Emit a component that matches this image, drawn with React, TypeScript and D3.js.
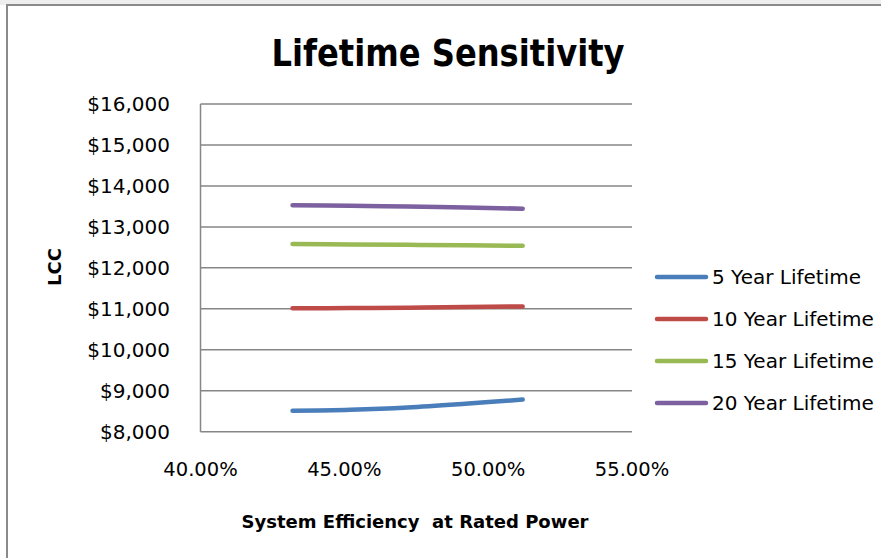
import React from "react";
import * as d3 from "d3";

const efficiency = [0.432, 0.452, 0.472, 0.492, 0.512];
const seriesNames = ["5 Year Lifetime", "10 Year Lifetime", "15 Year Lifetime", "20 Year Lifetime"];
const fiveYear = [8513, 8537, 8591, 8681, 8785];
const tenYear = [11015, 11018, 11028, 11042, 11058];
const fifteenYear = [12580, 12572, 12562, 12550, 12540];
const twentyYear = [13530, 13515, 13498, 13472, 13445];
const seriesColors = ["#4a7ebb", "#be4b48", "#98b954", "#7d60a0"];
const yTicks = [8000, 9000, 10000, 11000, 12000, 13000, 14000, 15000, 16000];
const xTicks = [0.4, 0.45, 0.5, 0.55];

const W = 881;
const H = 558;
const font = "'DejaVu Sans', sans-serif";

export default function App() {
  const x = d3.scaleLinear().domain([0.4, 0.55]).range([200.5, 632]);
  const y = d3.scaleLinear().domain([8000, 16000]).range([431.7, 104]);
  const allSeries = [fiveYear, tenYear, fifteenYear, twentyYear];
  const line = d3
    .line<[number, number]>()
    .x((d) => x(d[0]))
    .y((d) => y(d[1]))
    .curve(d3.curveCatmullRom.alpha(0.5));
  const dollar = d3.format("$,.0f");
  const pct = d3.format(".2%");

  return (
    <svg
      width={W}
      height={H}
      style={{ position: "absolute", left: 0, top: 0 }}
    >
      <rect x={0} y={0} width={W} height={H} fill="#ffffff" />
      <rect x={0} y={0} width={W} height={5} fill="#eeeeee" />
      <line x1={6} y1={5} x2={W} y2={5} stroke="#8a8a8a" strokeWidth={2} />
      <line x1={7} y1={5} x2={7} y2={H} stroke="#8a8a8a" strokeWidth={2} />

      <text
        x={448}
        y={66}
        textAnchor="middle"
        fontFamily={font}
        fontWeight="bold"
        fontSize={38}
        textLength={353}
        lengthAdjust="spacingAndGlyphs"
        fill="#000"
      >
        Lifetime Sensitivity
      </text>

      {yTicks.map((t) => (
        <g key={t}>
          <line
            x1={x(0.4)}
            x2={x(0.55)}
            y1={y(t)}
            y2={y(t)}
            stroke="#868686"
            strokeWidth={1.5}
          />
          <text
            x={170}
            y={y(t)}
            dy="0.35em"
            textAnchor="end"
            fontFamily={font}
            fontSize={20}
            fill="#000"
          >
            {dollar(t)}
          </text>
        </g>
      ))}
      <line x1={x(0.4)} x2={x(0.4)} y1={y(16000)} y2={y(8000)} stroke="#868686" strokeWidth={1.5} />

      {xTicks.map((t) => (
        <text
          key={t}
          x={x(t)}
          y={469}
          dy="0.35em"
          textAnchor="middle"
          fontFamily={font}
          fontSize={19.5}
          fill="#000"
        >
          {pct(t)}
        </text>
      ))}

      <text
        x={0}
        y={0}
        transform={`translate(61,267) rotate(-90)`}
        textAnchor="middle"
        fontFamily={font}
        fontWeight="bold"
        fontSize={18}
        fill="#000"
      >
        LCC
      </text>

      <text
        x={415}
        y={522}
        dy="0.35em"
        textAnchor="middle"
        fontFamily={font}
        fontWeight="bold"
        fontSize={18}
        textLength={347}
        lengthAdjust="spacingAndGlyphs"
        fill="#000"
        style={{ whiteSpace: "pre" }}
      >
        System Efficiency  at Rated Power
      </text>

      {allSeries.map((vals, i) => (
        <path
          key={seriesNames[i]}
          d={line(efficiency.map((e, j) => [e, vals[j]] as [number, number])) || ""}
          fill="none"
          stroke={seriesColors[i]}
          strokeWidth={4.5}
          strokeLinecap="round"
        />
      ))}

      {seriesNames.map((name, i) => {
        const ly = 277 + i * 42;
        return (
          <g key={name}>
            <line x1={657} x2={706} y1={ly} y2={ly} stroke={seriesColors[i]} strokeWidth={4.5} strokeLinecap="round" />
            <text x={712} y={ly} dy="0.35em" fontFamily={font} fontSize={20} fill="#000">
              {name}
            </text>
          </g>
        );
      })}
    </svg>
  );
}
